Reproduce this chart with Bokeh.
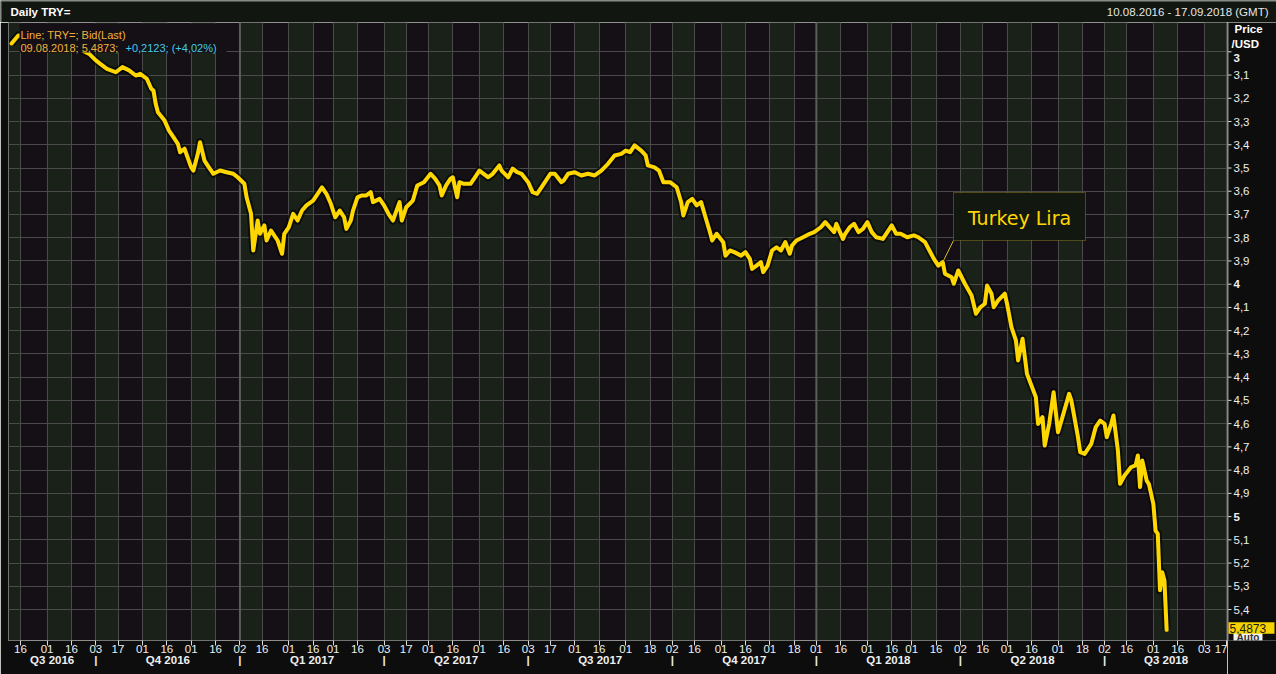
import numpy as np
from bokeh.plotting import figure
from bokeh.layouts import column, row
from bokeh.models import (Range1d, FixedTicker, LinearAxis, Label, BoxAnnotation,
                          Span, ColumnDataSource, Grid)
from bokeh.core.properties import value
from bokeh.embed import file_html
from bokeh.resources import INLINE

# ---------------- data ----------------
START = "2016-08-10"
END = "2018-09-17"

DATES = [
    "2016-08-10", "2016-08-15", "2016-08-18", "2016-08-24", "2016-08-30", "2016-09-02",
    "2016-09-07", "2016-09-13", "2016-09-19", "2016-09-22", "2016-09-28", "2016-10-03",
    "2016-10-05", "2016-10-10", "2016-10-14", "2016-10-19", "2016-10-24", "2016-10-27",
    "2016-10-31", "2016-11-03", "2016-11-07", "2016-11-08", "2016-11-09", "2016-11-10",
    "2016-11-15", "2016-11-17", "2016-11-21", "2016-11-23", "2016-11-24", "2016-11-28",
    "2016-12-01", "2016-12-02", "2016-12-06", "2016-12-07", "2016-12-09", "2016-12-13",
    "2016-12-15", "2016-12-20", "2016-12-23", "2016-12-28", "2016-12-30", "2017-01-04",
    "2017-01-05", "2017-01-09", "2017-01-10", "2017-01-12", "2017-01-13", "2017-01-17",
    "2017-01-18", "2017-01-20", "2017-01-23", "2017-01-25", "2017-01-27", "2017-01-30",
    "2017-02-01", "2017-02-03", "2017-02-07", "2017-02-09", "2017-02-13", "2017-02-16",
    "2017-02-22", "2017-02-24", "2017-02-28", "2017-03-02", "2017-03-06", "2017-03-08",
    "2017-03-09", "2017-03-13", "2017-03-14", "2017-03-16", "2017-03-20", "2017-03-22",
    "2017-03-24", "2017-03-27", "2017-03-30", "2017-04-03", "2017-04-05", "2017-04-07",
    "2017-04-12", "2017-04-13", "2017-04-17", "2017-04-20", "2017-04-24", "2017-04-27",
    "2017-05-02", "2017-05-04", "2017-05-08", "2017-05-09", "2017-05-11", "2017-05-15",
    "2017-05-16", "2017-05-18", "2017-05-19", "2017-05-23", "2017-05-26", "2017-05-30",
    "2017-06-01", "2017-06-07", "2017-06-09", "2017-06-14", "2017-06-15", "2017-06-20",
    "2017-06-22", "2017-06-26", "2017-06-28", "2017-07-03", "2017-07-05", "2017-07-07",
    "2017-07-11", "2017-07-17", "2017-07-19", "2017-07-24", "2017-07-25", "2017-07-27",
    "2017-08-01", "2017-08-04", "2017-08-09", "2017-08-14", "2017-08-17", "2017-08-22",
    "2017-08-25", "2017-08-30", "2017-09-01", "2017-09-05", "2017-09-07", "2017-09-12",
    "2017-09-14", "2017-09-15", "2017-09-20", "2017-09-22", "2017-09-26", "2017-09-29",
    "2017-10-04", "2017-10-06", "2017-10-09", "2017-10-11", "2017-10-13", "2017-10-17",
    "2017-10-19", "2017-10-23", "2017-10-25", "2017-10-26", "2017-10-30", "2017-11-02",
    "2017-11-03", "2017-11-07", "2017-11-09", "2017-11-14", "2017-11-16", "2017-11-20",
    "2017-11-21", "2017-11-23", "2017-11-27", "2017-11-28", "2017-11-30", "2017-12-04",
    "2017-12-06", "2017-12-08", "2017-12-12", "2017-12-14", "2017-12-15", "2017-12-19",
    "2017-12-22", "2017-12-27", "2017-12-29", "2018-01-03", "2018-01-05", "2018-01-09",
    "2018-01-11", "2018-01-12", "2018-01-17", "2018-01-18", "2018-01-22", "2018-01-24",
    "2018-01-26", "2018-01-30", "2018-02-01", "2018-02-05", "2018-02-07", "2018-02-12",
    "2018-02-14", "2018-02-16", "2018-02-20", "2018-02-22", "2018-02-27", "2018-03-02",
    "2018-03-06", "2018-03-09", "2018-03-13", "2018-03-15", "2018-03-19", "2018-03-21",
    "2018-03-22", "2018-03-27", "2018-03-28", "2018-03-30", "2018-04-04", "2018-04-09",
    "2018-04-11", "2018-04-13", "2018-04-17", "2018-04-18", "2018-04-20", "2018-04-23",
    "2018-04-25", "2018-04-30", "2018-05-01", "2018-05-03", "2018-05-07", "2018-05-08",
    "2018-05-10", "2018-05-14", "2018-05-16", "2018-05-18", "2018-05-21", "2018-05-23",
    "2018-05-24", "2018-05-28", "2018-05-30", "2018-06-01", "2018-06-05", "2018-06-08",
    "2018-06-11", "2018-06-14", "2018-06-15", "2018-06-19", "2018-06-22", "2018-06-26",
    "2018-06-28", "2018-07-02", "2018-07-03", "2018-07-05", "2018-07-06", "2018-07-10",
    "2018-07-11", "2018-07-13", "2018-07-18", "2018-07-20", "2018-07-23", "2018-07-24",
    "2018-07-25", "2018-07-27", "2018-07-30", "2018-08-01", "2018-08-02", "2018-08-03",
    "2018-08-06", "2018-08-07", "2018-08-08", "2018-08-09",
]

VALUES = [
    2.964, 2.930, 2.930, 2.955, 2.965, 2.975,
    2.945, 2.960, 2.975, 2.990, 3.009, 3.037,
    3.052, 3.073, 3.088, 3.066, 3.080, 3.102,
    3.095, 3.116, 3.159, 3.167, 3.224, 3.260,
    3.296, 3.339, 3.367, 3.396, 3.432, 3.417,
    3.497, 3.511, 3.439, 3.389, 3.468, 3.497,
    3.525, 3.511, 3.518, 3.525, 3.540, 3.568,
    3.626, 3.697, 3.855, 3.726, 3.783, 3.747,
    3.812, 3.769, 3.783, 3.812, 3.869, 3.783,
    3.755, 3.697, 3.726, 3.683, 3.661, 3.640,
    3.583, 3.611, 3.654, 3.712, 3.683, 3.712,
    3.762, 3.726, 3.683, 3.626, 3.618, 3.618,
    3.604, 3.647, 3.633, 3.661, 3.697, 3.726,
    3.647, 3.726, 3.669, 3.640, 3.575, 3.561,
    3.525, 3.546, 3.575, 3.618, 3.575, 3.546,
    3.540, 3.626, 3.561, 3.568, 3.568, 3.540,
    3.511, 3.540, 3.525, 3.489, 3.511, 3.540,
    3.503, 3.518, 3.525, 3.561, 3.604, 3.611,
    3.583, 3.525, 3.525, 3.561, 3.554, 3.525,
    3.518, 3.532, 3.525, 3.532, 3.511, 3.482,
    3.446, 3.439, 3.425, 3.432, 3.403, 3.425,
    3.446, 3.489, 3.497, 3.511, 3.561, 3.561,
    3.583, 3.647, 3.704, 3.647, 3.633, 3.661,
    3.647, 3.712, 3.776, 3.812, 3.783, 3.819,
    3.877, 3.855, 3.862, 3.877, 3.862, 3.891,
    3.934, 3.920, 3.905, 3.948, 3.920, 3.855,
    3.841, 3.855, 3.819, 3.869, 3.834, 3.812,
    3.798, 3.783, 3.776, 3.755, 3.733, 3.755,
    3.776, 3.740, 3.805, 3.783, 3.755, 3.740,
    3.776, 3.762, 3.733, 3.776, 3.798, 3.805,
    3.776, 3.747, 3.783, 3.783, 3.798, 3.790,
    3.798, 3.819, 3.855, 3.891, 3.920, 3.905,
    3.955, 3.970, 3.998, 3.941, 3.998, 4.049,
    4.127, 4.099, 4.084, 4.006, 4.041, 4.099,
    4.070, 4.041, 4.084, 4.185, 4.242, 4.328,
    4.235, 4.386, 4.436, 4.486, 4.601, 4.572,
    4.694, 4.601, 4.465, 4.637, 4.572, 4.472,
    4.500, 4.658, 4.723, 4.730, 4.687, 4.615,
    4.587, 4.601, 4.658, 4.601, 4.565, 4.716,
    4.859, 4.823, 4.787, 4.780, 4.737, 4.873,
    4.759, 4.845, 4.860, 4.945, 5.060, 5.074,
    5.317, 5.239, 5.275, 5.4873,
]

TICK_DATES = [
    "2016-08-16", "2016-09-01", "2016-09-16", "2016-10-03", "2016-10-17", "2016-11-01",
    "2016-11-16", "2016-12-01", "2016-12-16", "2017-01-02", "2017-01-16", "2017-02-01",
    "2017-02-16", "2017-03-01", "2017-03-16", "2017-04-03", "2017-04-17", "2017-05-01",
    "2017-05-16", "2017-06-01", "2017-06-16", "2017-07-03", "2017-07-17", "2017-08-01",
    "2017-08-16", "2017-09-01", "2017-09-18", "2017-10-02", "2017-10-16", "2017-11-01",
    "2017-11-16", "2017-12-01", "2017-12-18", "2018-01-01", "2018-01-16", "2018-02-01",
    "2018-02-16", "2018-03-01", "2018-03-16", "2018-04-02", "2018-04-16", "2018-05-01",
    "2018-05-16", "2018-06-01", "2018-06-18", "2018-07-02", "2018-07-16", "2018-08-01",
    "2018-08-16", "2018-09-03", "2018-09-17",
]
TICK_LABELS = [
    "16", "01", "16", "03", "17", "01", "16", "01", "16", "02", "16", "01",
    "16", "01", "16", "03", "17", "01", "16", "01", "16", "03", "17", "01",
    "16", "01", "18", "02", "16", "01", "16", "01", "18", "01", "16", "01",
    "16", "01", "16", "02", "16", "01", "16", "01", "18", "02", "16", "01",
    "16", "03", "17",
]
QUARTER_LABELS = ["Q3 2016", "Q4 2016", "Q1 2017", "Q2 2017", "Q3 2017",
                  "Q4 2017", "Q1 2018", "Q2 2018", "Q3 2018"]
QUARTER_STARTS = ["2016-07-01", "2016-10-03", "2017-01-02", "2017-04-03", "2017-07-03",
                  "2017-10-02", "2018-01-01", "2018-04-02", "2018-07-02", "2018-10-01"]
YEAR_STARTS = ["2017-01-02", "2018-01-01"]

Y_TICKS = [3.0, 3.1, 3.2, 3.3, 3.4, 3.5, 3.6, 3.7, 3.8, 3.9, 4.0, 4.1, 4.2,
           4.3, 4.4, 4.5, 4.6, 4.7, 4.8, 4.9, 5.0, 5.1, 5.2, 5.3, 5.4]
Y_LABELS = ["3", "3,1", "3,2", "3,3", "3,4", "3,5", "3,6", "3,7", "3,8", "3,9", "4",
            "4,1", "4,2", "4,3", "4,4", "4,5", "4,6", "4,7", "4,8", "4,9", "5",
            "5,1", "5,2", "5,3", "5,4"]

LAST_VALUE = 5.4873
LAST_TEXT = "5,4873"
LEGEND_1 = "Line; TRY=; Bid(Last)"
LEGEND_2A = "09.08.2018; 5,4873;"
LEGEND_2B = "+0,2123; (+4,02%)"
TITLE = "Daily TRY="
RANGE_TEXT = "10.08.2016 - 17.09.2018 (GMT)"
UNIT_1, UNIT_2 = "Price", "/USD"
CALLOUT = "Turkey Lira"
CALLOUT_DATE = "2018-03-21"
CALLOUT_VALUE = 3.905


def tday(d):
    """trading-day number (weekdays) counted from the first day of the window"""
    return int(np.busday_count(START, d))


# ---------------- geometry (screen pixels) ----------------
TOTAL_W, TOTAL_H = 1276, 674
HEAD_H = 22
FL, FR, FT, FB = 8, 1227, 22, 640    # frame edges on screen
X0PX, KX = 11.1, 2.217               # px of first trading day, px per trading day
Y0PX, KY = 51.3, 232.4               # px of 3.0, px per price unit


def px_x(px):
    return (px - X0PX) / KX


def px_y(py):
    return 3.0 + (py - Y0PX) / KY


BG_DARK = "#151016"
BG_GREEN = "#1a2119"
OUTER = "#0d0d0d"
HEAD_BG = "#111611"
GRID = "#4a4a4a"
FRAME = "#8f8f8f"
YELLOW = "#ffd700"
TEXT = "#efefef"
FONT = "Liberation Sans"

# ---------------- header strip ----------------
head = figure(width=TOTAL_W, height=HEAD_H, output_backend="svg", toolbar_location=None,
              x_range=Range1d(0, TOTAL_W), y_range=Range1d(HEAD_H, 0),
              min_border=0, x_axis_type=None, y_axis_type=None)
head.background_fill_color = HEAD_BG
head.border_fill_color = HEAD_BG
head.outline_line_color = None
head.grid.visible = False
head.segment(x0=[0], x1=[TOTAL_W], y0=[0.5], y1=[0.5], line_color="#8a8a8a", line_width=1)
head.segment(x0=[0.5], x1=[0.5], y0=[0], y1=[HEAD_H], line_color="#8a8a8a", line_width=1)
HTXT = dict(text_font=FONT, text_font_size="11.5px", text_baseline="middle")
head.add_layout(Label(x=10, y=11, text=TITLE, text_color="#ffffff",
                      text_font_style="bold", **HTXT))
head.add_layout(Label(x=1268, y=11, text=RANGE_TEXT, text_color="#e6e6e6",
                      text_align="right", **HTXT))

# ---------------- main chart ----------------
MAIN_H = TOTAL_H - HEAD_H
yrange = Range1d(px_y(FB), px_y(FT))
p = figure(width=FR, height=MAIN_H, output_backend="svg", toolbar_location=None,
           x_range=Range1d(px_x(FL), px_x(FR)), y_range=yrange,
           y_axis_type=None,
           min_border_left=FL, min_border_top=0, min_border_right=0,
           min_border_bottom=TOTAL_H - FB)
p.background_fill_color = BG_DARK
p.border_fill_color = OUTER
p.outline_line_color = FRAME
p.outline_line_width = 1

xs_ticks = [tday(d) for d in TICK_DATES]

# alternating bands between date ticks
edges = [px_x(FL)] + xs_ticks + [px_x(FR)]
band_src = ColumnDataSource(dict(
    left=[edges[i] for i in range(len(edges) - 1) if i % 2 == 0],
    right=[edges[i + 1] for i in range(len(edges) - 1) if i % 2 == 0],
))
p.quad(left="left", right="right", top=px_y(FT), bottom=px_y(FB), source=band_src,
       fill_color=BG_GREEN, line_color=None, level="image")

# grids
p.xgrid.ticker = FixedTicker(ticks=xs_ticks)
p.xgrid.grid_line_color = GRID
p.add_layout(Grid(dimension=1, ticker=FixedTicker(ticks=Y_TICKS), grid_line_color=GRID))

for d in YEAR_STARTS:
    p.add_layout(Span(location=tday(d), dimension="height", line_color="#5c5c5c",
                      line_width=2, level="underlay"))

# the price line
src = ColumnDataSource(dict(x=[tday(d) for d in DATES], y=VALUES))
p.line("x", "y", source=src, line_color="black", line_alpha=0.6, line_width=8,
       line_join="round")
p.line("x", "y", source=src, line_color=YELLOW, line_width=4, line_join="round",
       line_cap="round")

# x axis (day numbers)
xax = p.xaxis[0]
xax.ticker = FixedTicker(ticks=xs_ticks)
xax.major_label_overrides = {t: l for t, l in zip(xs_ticks, TICK_LABELS)}
xax.minor_tick_line_color = None
xax.major_tick_in = 0
xax.major_tick_out = 5
xax.major_tick_line_color = "#dcdcdc"
xax.axis_line_color = None
xax.major_label_text_color = TEXT
xax.major_label_text_font = FONT
xax.major_label_text_font_size = "11.5px"
xax.major_label_standoff = -1

# quarter axis: names at the middle of each quarter, "|" at each quarter start
q_starts = [tday(d) for d in QUARTER_STARTS]
x_lo, x_hi = px_x(FL), px_x(FR)
q_mid = []
for a, b in zip(q_starts[:-1], q_starts[1:]):
    q_mid.append((max(a, x_lo) + min(b, x_hi)) / 2)
q_sep = [q for q in q_starts if x_lo < q < x_hi]
q_over = {t: l for t, l in zip(q_mid, QUARTER_LABELS)}
q_over.update({t: "|" for t in q_sep})
qax = LinearAxis(ticker=FixedTicker(ticks=sorted(q_mid + q_sep), minor_ticks=[]))
qax.major_label_overrides = q_over
qax.major_tick_line_color = None
qax.major_tick_in = 0
qax.major_tick_out = 0
qax.minor_tick_line_color = None
qax.axis_line_color = None
qax.major_label_text_color = TEXT
qax.major_label_text_font = FONT
qax.major_label_text_font_style = "bold"
qax.major_label_text_font_size = "11.5px"
qax.major_label_standoff = -2
p.add_layout(qax, "below")

# legend: opaque backing box and its texts
p.add_layout(BoxAnnotation(left=px_x(19), right=px_x(226), top=px_y(23), bottom=px_y(52),
                           fill_color=BG_DARK, fill_alpha=1.0, line_color=None))
TXT = dict(text_font=FONT, text_font_size="11px", text_baseline="middle")
p.add_layout(Label(x=px_x(20), y=px_y(34), text=LEGEND_1, text_color="#f2b03a", **TXT))
p.add_layout(Label(x=px_x(20), y=px_y(47), text=LEGEND_2A, text_color="#f2b03a", **TXT))
p.add_layout(Label(x=px_x(125), y=px_y(47), text=LEGEND_2B, text_color="#41c9e8", **TXT))

# callout
cx, cy = tday(CALLOUT_DATE), CALLOUT_VALUE
p.segment(x0=[px_x(953)], y0=[px_y(240)], x1=[cx], y1=[cy], line_color="#d9bd2a",
          line_width=1)
p.add_layout(BoxAnnotation(left=px_x(953), right=px_x(1085), top=px_y(192), bottom=px_y(240),
                           fill_color="#12170f", fill_alpha=1.0,
                           line_color="#d9bd2a", line_width=1))
p.add_layout(Label(x=px_x(1019), y=px_y(217), text=CALLOUT, text_color=YELLOW,
                   text_font="DejaVu Sans", text_font_size="19px",
                   text_align="center", text_baseline="middle"))

# ---------------- price scale strip (right), same vertical scale as the chart ----------
SIDE_W = TOTAL_W - FR
side = figure(width=SIDE_W, height=MAIN_H, output_backend="svg", toolbar_location=None,
              x_range=Range1d(FR, TOTAL_W), y_range=yrange,
              min_border_left=0, min_border_right=0, min_border_top=0,
              min_border_bottom=TOTAL_H - FB,
              x_axis_type=None, y_axis_type=None)
side.background_fill_color = OUTER
side.border_fill_color = OUTER
side.outline_line_color = None
side.grid.visible = False

tick_src = ColumnDataSource(dict(y=Y_TICKS))
side.segment(x0=FR, x1=FR + 4, y0="y", y1="y", source=tick_src, line_color="#dcdcdc",
             line_width=1)
side.segment(x0=[FR + 0.5], x1=[FR + 0.5], y0=[px_y(FT)], y1=[px_y(FB)],
             line_color=FRAME, line_width=1)
is_int = [("," not in l) for l in Y_LABELS]
for flag in (False, True):
    sub = ColumnDataSource(dict(
        y=[y for y, f in zip(Y_TICKS, is_int) if f == flag],
        text=[t for t, f in zip(Y_LABELS, is_int) if f == flag],
        yoff=[6 if y == Y_TICKS[0] else 0 for y, f in zip(Y_TICKS, is_int) if f == flag],
    ))
    side.text(x=FR + 6, y="y", text="text", y_offset="yoff", source=sub,
              text_color=TEXT, text_font=value(FONT),
              text_font_size=value("11.5px"), text_baseline="middle",
              text_font_style="bold" if flag else "normal")

STXT = dict(text_font=FONT, text_font_size="11.5px", text_baseline="middle")
side.add_layout(Label(x=1234, y=px_y(28.5), text=UNIT_1, text_color="#ffffff",
                      text_font_style="bold", **STXT))
side.add_layout(Label(x=1231, y=px_y(43.5), text=UNIT_2, text_color="#ffffff",
                      text_font_style="bold", **STXT))

# last value tag with the "Auto" marker under it
side.quad(left=[1233], right=[1262], top=[LAST_VALUE + 2.0 / KY],
          bottom=[LAST_VALUE + 11.0 / KY], fill_color="#f2f2f2", line_color=None)
side.text(x=[1247.5], y=[LAST_VALUE + 7.5 / KY], text=["Auto"], text_color="#333333",
          text_font=value(FONT), text_font_size=value("10px"), text_align="center",
          text_baseline="middle", text_font_style="bold")
side.quad(left=[FR + 1], right=[1274], top=[LAST_VALUE - 7.5 / KY],
          bottom=[LAST_VALUE + 4.0 / KY], fill_color="#f5d300", line_color=None)
side.text(x=[FR + 2], y=[LAST_VALUE - 1.8 / KY], text=[LAST_TEXT], text_color="#1a1a1a",
          text_font=value(FONT), text_font_size=value("12px"), text_baseline="middle")

layout = column(head, row(p, side, spacing=0), spacing=0)
open("out.html", "w").write(file_html(layout, INLINE))
